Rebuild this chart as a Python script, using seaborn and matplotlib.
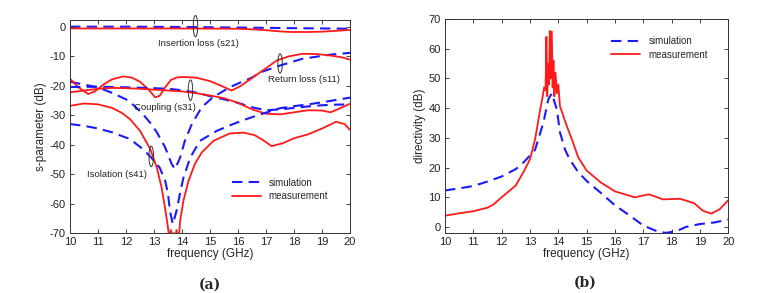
import numpy as np
import pandas as pd
import matplotlib
matplotlib.use("Agg")
import matplotlib.pyplot as plt
from matplotlib.patches import Ellipse
import seaborn as sns

# ---------------- data ----------------
# (a) S-parameters
s21_sim_f = [10, 12, 14, 16, 18, 20]
s21_sim = [0.1, 0.1, 0.0, -0.2, -0.4, -0.6]
s21_meas_f = [10, 11, 12, 13, 14, 15, 16, 16.5, 17, 17.5, 17.9, 18.5, 19, 19.5, 20]
s21_meas = [-0.5, -0.5, -0.5, -0.5, -0.5, -0.55, -0.6, -0.8, -1.1, -1.5, -1.7, -1.7, -1.6, -1.3, -1.0]

s11_sim_f = [10, 10.5, 11, 11.5, 12, 12.3, 12.6, 12.9, 13.1, 13.4, 13.63, 13.75, 13.93, 14.1, 14.35,
             14.7, 15.1, 15.4, 15.7, 16.1, 16.5, 16.8, 17.5, 18.3, 19.3, 20]
s11_sim = [-18.6, -19.6, -20.5, -22.4, -24.6, -26.8, -29.6, -33, -35.8, -41, -46.6, -48.3, -44.4,
           -38.7, -33, -27.3, -23.9, -22.2, -20.5, -18.8, -17.2, -15.4, -13.1, -10.8, -9.4, -8.8]
s11_meas_f = [10, 10.3, 10.65, 10.9, 11.2, 11.5, 11.9, 12.2, 12.5, 12.8, 13.04, 13.2, 13.4, 13.6,
              13.8, 14.0, 14.5, 15.0, 15.4, 15.77, 16.1, 16.55, 17.0, 17.38, 17.8, 18.3, 18.8, 19.3,
              19.7, 20]
s11_meas = [-17.6, -20.5, -22.8, -21.8, -19.5, -17.8, -16.8, -17.2, -18.6, -21.2, -23.9, -23.4,
            -20.5, -18, -17.2, -17.0, -17.2, -18.4, -20.0, -21.6, -20.0, -17.0, -14.0, -11.4, -10.0,
            -9.1, -9.2, -9.7, -10.3, -11.1]

s31_sim_f = [10, 11, 12, 13, 13.5, 14, 14.5, 15, 15.5, 16, 16.5, 17, 17.5, 18, 18.5, 19, 19.5, 20]
s31_sim = [-20.4, -20.3, -20.5, -20.8, -21, -21.5, -22.3, -23.5, -24.6, -25.8, -27.3, -28.3, -28,
           -27.5, -27, -26.6, -26.4, -26.3]
s31_meas_f = [10, 10.5, 11, 11.5, 12, 12.5, 13, 13.5, 14, 14.5, 15, 15.5, 16, 16.5, 17, 17.5, 18,
              18.5, 19, 19.3, 19.6, 20]
s31_meas = [-22.2, -21.6, -21, -20.7, -20.8, -21, -21.3, -21.6, -21.9, -22.5, -23.3, -24.2, -25.8,
            -28, -29.5, -29.7, -29, -28.3, -28.4, -29, -27.8, -26.1]

s41_sim_f = [10, 10.5, 11, 11.5, 12.14, 12.6, 12.9, 13.2, 13.4, 13.5, 13.57, 13.67, 13.8, 13.92,
             14.05, 14.29, 14.64, 15.24, 15.82, 16.3, 16.8, 17.5, 18, 18.5, 19, 19.5, 20]
s41_sim = [-33, -33.6, -34.5, -35.8, -38.1, -41.5, -44.4, -47.8, -52.3, -56.9, -62.6, -67, -62.6,
           -56.9, -51.2, -44.4, -38.7, -35.3, -33, -31.3, -29.7, -27.6, -26.9, -26.3, -25.6, -24.8,
           -24]
s41_meas_f = [10, 10.5, 11, 11.5, 11.85, 12.14, 12.5, 12.86, 13.1, 13.27, 13.39, 13.48, 13.55, 13.6,
              13.65, 13.7, 13.75, 13.8, 13.85, 13.9, 13.93, 14.05, 14.23, 14.46, 14.7, 15.12, 15.7,
              16.2, 16.6, 16.9, 17.2, 17.6, 18, 18.5, 19, 19.5, 19.8, 20]
s41_meas = [-26.8, -26, -26.3, -27.5, -29.2, -31.3, -35.3, -41.4, -47.8, -54.6, -61.4, -67, -72,
            -69, -72, -70, -73, -69, -72, -70, -66, -59, -52.3, -46.5, -42.7, -38.7, -36.2, -35.9,
            -36.8, -38.5, -40.5, -39.5, -37.8, -36.5, -34.5, -32.2, -33, -35]

# (b) directivity
dir_sim_f = [10, 10.5, 11, 11.5, 12, 12.5, 12.8, 13.18, 13.47, 13.65, 13.77, 13.95, 14.06, 14.24,
             14.4, 14.7, 15, 15.5, 16, 16.5, 17, 17.5, 17.8, 18.2, 18.5, 19, 19.5, 20]
dir_sim = [12.3, 13, 13.8, 15.3, 17, 19.5, 22, 26, 35, 43, 45, 39.5, 31.8, 26, 22.8, 18.5, 15.5,
           11.5, 7.3, 4, 0.5, -1.5, -2, -1.3, 0, 1, 1.5, 2.5]
dir_meas_f = [10, 10.5, 11, 11.5, 11.7, 12, 12.5, 12.8, 13.0, 13.18, 13.36, 13.45, 13.5, 13.55,
              13.58, 13.61, 13.64, 13.67, 13.7, 13.73, 13.77, 13.8, 13.83, 13.86, 13.9, 13.95,
              14.0, 14.06, 14.3, 14.5, 14.7, 15, 15.5, 16, 16.7, 17.2, 17.7, 18.3, 18.8, 19.1,
              19.4, 19.7, 20]
dir_meas = [3.8, 4.6, 5.3, 6.5, 7.5, 10, 14, 19, 22.8, 29.5, 39.5, 44, 47, 46, 64, 44, 55, 48, 66,
            50, 65.8, 47, 56, 44, 52, 45, 48, 40.6, 34, 29, 23.5, 19, 15, 12, 10, 11, 9.3, 9.5, 8,
            5.5, 4.5, 6, 9]

# annotations of panel (a)
ann_texts = ["Insertion loss (s21)", "Return loss (s11)", "Coupling (s31)", "Isolation (s41)"]
ann_text_xy = [(14.57, -5.6), (18.36, -17.8), (13.4, -27.4), (11.68, -50)]
ann_ell_xy = [(14.48, 0.3), (17.5, -12.4), (14.3, -21.5), (12.9, -44)]

# ---------------- style ----------------
sns.set_theme(style="ticks")
plt.rcParams['font.family'] = ['Liberation Sans', 'DejaVu Sans']
plt.rcParams['axes.unicode_minus'] = False

BLUE = "#1a1aff"
RED = "#ff1a1a"

fig = plt.figure(figsize=(7.78, 2.93), dpi=100)
axA = fig.add_axes([0.09, 0.205, 0.36, 0.727])
axB = fig.add_axes([0.572, 0.205, 0.364, 0.730])


def sim(ax, f, v, label=None):
    sns.lineplot(x=f, y=v, ax=ax, color=BLUE, lw=1.5, estimator=None, label=label,
                 linestyle=(0, (5, 3)))


def meas(ax, f, v, label=None):
    sns.lineplot(x=f, y=v, ax=ax, color=RED, lw=1.3, estimator=None, label=label)


# panel (a)
sim(axA, s21_sim_f, s21_sim, "simulation")
meas(axA, s21_meas_f, s21_meas, "measurement")
sim(axA, s11_sim_f, s11_sim)
meas(axA, s11_meas_f, s11_meas)
sim(axA, s31_sim_f, s31_sim)
meas(axA, s31_meas_f, s31_meas)
sim(axA, s41_sim_f, s41_sim)
meas(axA, s41_meas_f, s41_meas)

axA.set_xlim(10, 20)
axA.set_ylim(-70, 2.4)
axA.set_xticks(range(10, 21))
axA.set_yticks(range(-70, 1, 10))
axA.set_xlabel("frequency (GHz)", fontsize=8.5, labelpad=1)
axA.set_ylabel("s-parameter (dB)", fontsize=8.5, labelpad=2)

for t, (tx, ty) in zip(ann_texts, ann_text_xy):
    axA.text(tx, ty, t, fontsize=6.8, ha="center", va="center", color="#222222")
ell_sizes = [(0.16, 7.2), (0.16, 6.6), (0.16, 7.0), (0.16, 7.0)]
for (ex, ey), (w, h) in zip(ann_ell_xy, ell_sizes):
    axA.add_patch(Ellipse((ex, ey), w, h, fill=False, lw=0.7, color="#333333", zorder=5,
                          clip_on=False))

axA.legend(frameon=False, loc="center left", bbox_to_anchor=(0.56, 0.205), fontsize=7,
           handlelength=3.0, labelspacing=0.35, handletextpad=0.8, borderpad=0)

# panel (b)
sim(axB, dir_sim_f, dir_sim, "simulation")
meas(axB, dir_meas_f, dir_meas, "measurement")
axB.set_xlim(10, 20)
axB.set_ylim(-2, 70)
axB.set_xticks(range(10, 21))
axB.set_yticks(range(0, 71, 10))
axB.set_xlabel("frequency (GHz)", fontsize=8.5, labelpad=1)
axB.set_ylabel("directivity (dB)", fontsize=8.5, labelpad=2)
axB.legend(frameon=False, loc="center left", bbox_to_anchor=(0.57, 0.865), fontsize=7,
           handlelength=3.0, labelspacing=0.35, handletextpad=0.8, borderpad=0)

for ax in (axA, axB):
    ax.tick_params(direction="in", top=True, right=True, length=3, width=0.6,
                   labelsize=8, pad=3, colors="#222222")
    for s in ax.spines.values():
        s.set_linewidth(0.7)
        s.set_color("#333333")

fig.text(0.27, 0.03, "(a)", ha="center", va="center", fontsize=10,
         family=["DejaVu Serif"], weight="bold")
fig.text(0.752, 0.035, "(b)", ha="center", va="center", fontsize=10,
         family=["DejaVu Serif"], weight="bold")

fig.savefig("out.png", dpi=100, facecolor="white")
